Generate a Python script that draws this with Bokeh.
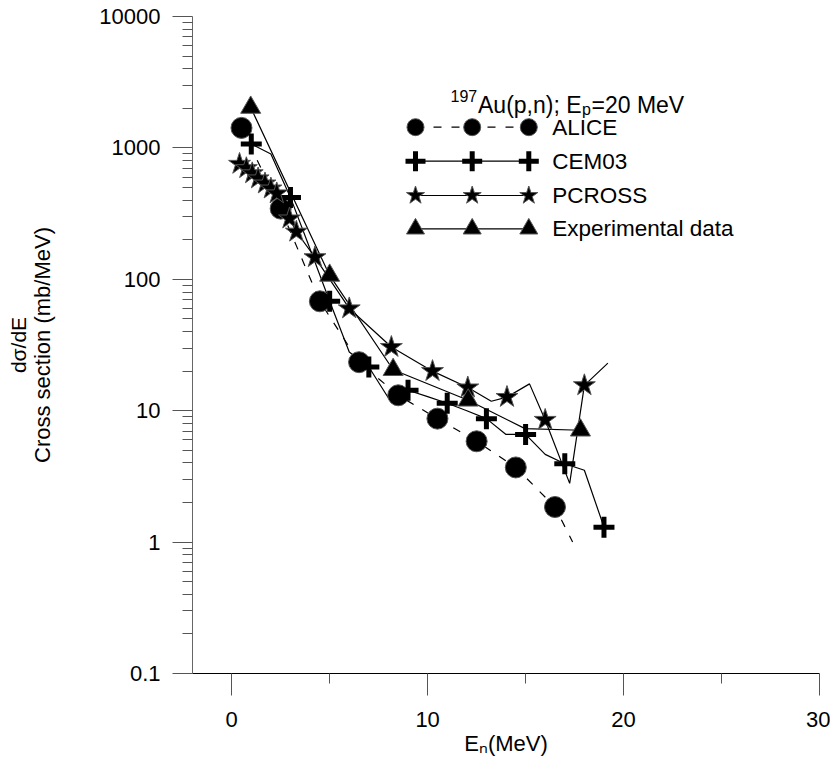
import math
from bokeh.plotting import figure
from bokeh.models import Range1d, FixedTicker, CustomJSTickFormatter, Label, LogAxis
from bokeh.embed import file_html
from bokeh.resources import INLINE

# ---------------- data ----------------
alice_e = [0.5, 2.5, 4.5, 6.5, 8.5, 10.5, 12.5, 14.5, 16.5, 17.4]
alice_sigma = [1420, 345, 68, 23.4, 13.1, 8.7, 5.85, 3.7, 1.85, 1.0]
alice_marked = [True, True, True, True, True, True, True, True, True, False]

cem_e = [1, 2, 3, 4, 5, 6, 7, 8, 9, 10, 11, 12, 13, 14, 15, 16, 17, 18, 19]
cem_sigma = [1070, 900, 420, 170, 68, 28, 21.5, 12.5, 14.3, 12.8, 11.4, 10.0,
             8.7, 6.6, 6.6, 4.65, 3.95, 3.52, 1.3]
cem_marked = [i % 2 == 0 for i in range(len(cem_e))]

pcross_e = [0.4, 0.75, 1.05, 1.35, 1.7, 2.0, 2.3, 2.95, 3.3, 4.25, 6.0, 8.15,
            10.25, 12.05, 13.25, 14.05, 15.2, 16.0, 17.25, 18.0, 19.2]
pcross_sigma = [755, 700, 640, 585, 535, 490, 450, 290, 230, 147, 60, 30.5,
                20.0, 15.0, 11.8, 12.7, 16.0, 8.5, 2.8, 15.6, 23.0]
pcross_marked = [True] * 14 + [False, True, False, True, False, True, False]

exp_e = [0.97, 5.0, 8.24, 12.07, 14.97, 17.8]
exp_sigma = [2030, 107, 20.5, 12.0, 7.3, 7.1]
exp_marked = [True, True, True, True, False, True]

series_names = ["ALICE", "CEM03", "PCROSS", "Experimental data"]
x_ticks = [0, 10, 20, 30]
x_minor = [5, 15, 25]
y_ticks = [0.1, 1, 10, 100, 1000, 10000]

# ---------------- layout ----------------
X0, X1 = -2, 30
Y0, Y1 = 0.1, 10000
BL, BR, BT, BB = 192, 11, 16, 91
FW, FH = 627, 657
W = BL + FW + BR
H = BT + FH + BB


def px_x(px):
    """picture pixel -> data x (used only to place the hand-drawn legend)"""
    return X0 + (px - BL) / FW * (X1 - X0)


def py_y(py):
    """picture pixel -> data y on the log scale (legend placement)"""
    lo, hi = math.log10(Y0), math.log10(Y1)
    return 10 ** (lo + (BT + FH - py) / FH * (hi - lo))


FONT = "Liberation Sans"

p = figure(width=W, height=H, x_range=Range1d(X0, X1), y_range=Range1d(Y0, Y1),
           y_axis_type="log", output_backend="svg", toolbar_location=None,
           min_border_left=BL, min_border_right=BR, min_border_top=BT,
           min_border_bottom=BB)
p.outline_line_color = None
p.xgrid.visible = False
p.ygrid.visible = False
p.background_fill_color = "white"

# x axis
xa = p.xaxis[0]
xa.ticker = FixedTicker(ticks=x_ticks, minor_ticks=x_minor)
xa.axis_line_color = "black"
xa.major_tick_line_color = "#555555"
xa.minor_tick_line_color = "#555555"
xa.major_tick_in = 0
xa.major_tick_out = 22
xa.minor_tick_in = 0
xa.minor_tick_out = 10
xa.major_label_standoff = 16
xa.major_label_text_font = FONT
xa.major_label_text_font_size = "22px"
xa.major_label_text_color = "black"
xa.axis_label = "E\u2099(MeV)"
xa.axis_label_standoff = 1
xa.axis_label_text_font = FONT
xa.axis_label_text_font_size = "22px"
xa.axis_label_text_font_style = "normal"
xa.axis_label_text_color = "black"

# y axis
minor_y = [m * 10 ** d for d in range(-1, 4) for m in range(2, 10)]
ya = p.yaxis[0]
ya.ticker = FixedTicker(ticks=y_ticks, minor_ticks=minor_y)
ya.formatter = CustomJSTickFormatter(code="return String(tick);")
ya.axis_line_color = "#666666"
ya.major_tick_line_color = "#555555"
ya.minor_tick_line_color = "#555555"
ya.major_tick_in = 0
ya.major_tick_out = 20
ya.minor_tick_in = 0
ya.minor_tick_out = 10
ya.major_label_standoff = 12
ya.major_label_text_font = FONT
ya.major_label_text_font_size = "22px"
ya.major_label_text_color = "black"
ya.axis_label = "Cross section (mb/MeV)"
ya.axis_label_standoff = 41
ya.axis_label_text_font = FONT
ya.axis_label_text_font_size = "22px"
ya.axis_label_text_font_style = "normal"
ya.axis_label_text_color = "black"

# second line of the y title, as an outer axis without ticks
outer = LogAxis(ticker=FixedTicker(ticks=[]), axis_label="d\u03c3/dE",
                axis_line_color=None, major_tick_line_color=None,
                minor_tick_line_color=None, major_tick_out=0, minor_tick_out=0,
                major_tick_in=0, minor_tick_in=0, major_label_standoff=0,
                major_label_text_font_size="0px", axis_label_standoff=-2,
                axis_label_text_font=FONT, axis_label_text_font_size="21px",
                axis_label_text_font_style="normal", axis_label_text_color="black")
p.add_layout(outer, "left")


def sel(vals, mask):
    return [v for v, m in zip(vals, mask) if m]


# series lines
p.line(alice_e, alice_sigma, line_color="black", line_width=1.2, line_dash="8 10")
p.line(cem_e, cem_sigma, line_color="black", line_width=1.2)
p.line(pcross_e, pcross_sigma, line_color="black", line_width=1.2)
p.line(exp_e, exp_sigma, line_color="black", line_width=1.2)

# series markers
p.scatter(sel(alice_e, alice_marked), sel(alice_sigma, alice_marked), marker="circle",
          size=21, fill_color="black", line_color="#555555", line_width=1)
p.scatter(sel(cem_e, cem_marked), sel(cem_sigma, cem_marked), marker="cross",
          size=21, line_color="black", line_width=5)
p.scatter(sel(pcross_e, pcross_marked), sel(pcross_sigma, pcross_marked), marker="star",
          size=23, fill_color="black", line_color="#555555", line_width=1)
p.scatter(sel(exp_e, exp_marked), sel(exp_sigma, exp_marked), marker="triangle",
          size=20, fill_color="black", line_color="#555555", line_width=1)

# ---------------- legend (drawn by hand: three symbols per row) ----------------
leg_cols = [415, 471.7, 528.3]
leg_rows = [126.7, 160.7, 195.0, 228.3]
leg_text_x = 551.7
leg_styles = [
    dict(marker="circle", size=17, fill_color="black", line_color="#555555", line_width=1),
    dict(marker="cross", size=20, line_color="black", line_width=5),
    dict(marker="star", size=19, fill_color="black", line_color="#555555", line_width=1),
    dict(marker="triangle", size=18, fill_color="black", line_color="#555555", line_width=1),
]
leg_dash = ["8 10", "solid", "solid", "solid"]
for name, row, style, dash in zip(series_names, leg_rows, leg_styles, leg_dash):
    ly = py_y(row)
    p.line([px_x(leg_cols[0]), px_x(leg_cols[-1])], [ly, ly], line_color="black",
           line_width=1.2, line_dash=dash)
    p.scatter([px_x(c) for c in leg_cols], [ly] * 3, **style)
    p.add_layout(Label(x=px_x(leg_text_x), y=ly, text=name, text_font=FONT,
                       text_font_size="22.5px", text_baseline="middle",
                       text_align="left", text_color="black"))

# legend title: 197Au(p,n); Ep=20 MeV
title_base = 104
title_parts = [
    (450, title_base - 9, "197", "16px"),
    (477.5, title_base, "Au(p,n); E", "23px"),
    (581.5, title_base + 5, "p", "16px"),
    (591, title_base, "=20 MeV", "23px"),
]
for tx, ty, txt, fs in title_parts:
    p.add_layout(Label(x=px_x(tx), y=py_y(ty), text=txt, text_font=FONT,
                       text_font_size=fs, text_baseline="alphabetic",
                       text_align="left", text_color="black"))

open("out.html", "w").write(file_html(p, INLINE))
